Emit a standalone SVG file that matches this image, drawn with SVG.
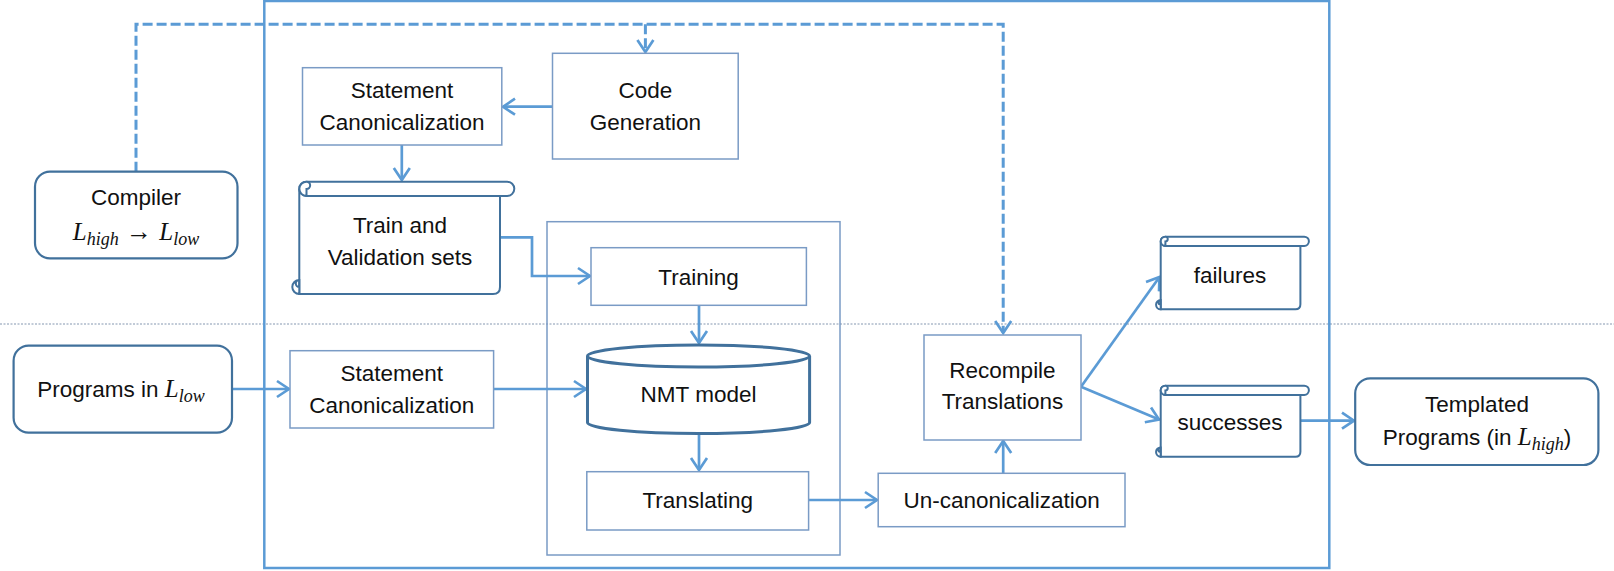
<svg xmlns="http://www.w3.org/2000/svg" width="1614" height="571" viewBox="0 0 1614 571">
<style>
.t{font-family:"Liberation Sans",Arial,sans-serif;font-size:22.5px;fill:#111;text-anchor:middle}
.m{font-family:"Liberation Serif","Times New Roman",serif;font-style:italic}
.box{fill:#fff;stroke:#7a9bc5;stroke-width:1.5}
.rbox{fill:#fff;stroke:#41719c;stroke-width:2.2}
.scr{fill:#fff;stroke:#41719c;stroke-width:2}
.c{fill:none;stroke:#5b9bd5;stroke-width:2.7}
.d{fill:none;stroke:#5b9bd5;stroke-width:3;stroke-dasharray:10 4}
</style>
<defs>
<marker id="a" viewBox="-14 -10 16 20" refX="0" refY="0" markerWidth="16" markerHeight="20" markerUnits="userSpaceOnUse" orient="auto">
<path d="M-12,-8 L0,0 L-12,8" fill="none" stroke="#5b9bd5" stroke-width="2.7"/>
</marker>
</defs>
<rect width="1614" height="571" fill="#fff"/>
<line x1="0" y1="324" x2="1614" y2="324" stroke="#8497b0" stroke-width="1" stroke-dasharray="2 1.5"/>
<g id="outer"><rect x="264.3" y="1" width="1065" height="567" fill="none" stroke="#5b9bd5" stroke-width="2.5"/></g>
<g id="inner"><rect x="547" y="221.7" width="293" height="333.3" fill="none" stroke="#7a9bc5" stroke-width="1.5"/></g>

<g id="connectors">
<path class="d" d="M136,171.7 V24.3 H1003.2 V333" marker-end="url(#a)"/>
<path class="d" d="M645.4,24.3 V52" marker-end="url(#a)"/>
<path class="c" d="M552.5,106.7 H503" marker-end="url(#a)"/>
<path class="c" d="M401.8,145 V180" marker-end="url(#a)"/>
<path class="c" d="M500,237.3 H532 V276 H590" marker-end="url(#a)"/>
<path class="c" d="M699,305.3 V343" marker-end="url(#a)"/>
<path class="c" d="M232,389 H289" marker-end="url(#a)"/>
<path class="c" d="M493.6,389 H586" marker-end="url(#a)"/>
<path class="c" d="M699,433.5 V470" marker-end="url(#a)"/>
<path class="c" d="M808.6,500 H877" marker-end="url(#a)"/>
<path class="c" d="M1003.2,473.3 V441" marker-end="url(#a)"/>
<path class="c" d="M1081,386.7 L1159.5,277" marker-end="url(#a)"/>
<path class="c" d="M1081,386.7 L1159,419.5" marker-end="url(#a)"/>
<path class="c" d="M1300.4,420.7 H1354" marker-end="url(#a)"/>
</g>

<g id="compiler">
<rect class="rbox" x="35" y="171.7" width="202.5" height="86.6" rx="15"/>
<text class="t" x="136" y="205">Compiler</text>
<text class="t" x="136" y="240"><tspan class="m" font-size="25">L</tspan><tspan class="m" font-size="18" dy="5">high</tspan><tspan dy="-5" font-size="26"> → </tspan><tspan class="m" font-size="25">L</tspan><tspan class="m" font-size="18" dy="5">low</tspan></text>
</g>

<g id="stmt-canon-top">
<rect class="box" x="302.5" y="67.7" width="199.3" height="77.3"/>
<text class="t" x="402" y="98">Statement</text>
<text class="t" x="402" y="130">Canonicalization</text>
</g>

<g id="code-gen">
<rect class="box" x="552.5" y="53.3" width="185.7" height="105.7"/>
<text class="t" x="645.4" y="98">Code</text>
<text class="t" x="645.4" y="130">Generation</text>
</g>

<g id="train-sets">
<path class="scr" d="M299.3,189 V294 H493 Q500,294 500,287 V196"/>
<rect class="scr" x="299.3" y="181.7" width="215" height="14.3" rx="7.15"/>
<path class="scr" d="M306.5,196 A7.15,7.15 0 0 1 306.5,181.7 A3.6,3.6 0 0 1 306.5,189 Z" fill="none"/>
<path class="scr" d="M299.3,280 A7,7 0 0 0 299.3,294 Z M299.3,287 A3.5,3.5 0 0 1 299.3,280"/>
<text class="t" x="400" y="233">Train and</text>
<text class="t" x="400" y="265">Validation sets</text>
</g>

<g id="training">
<rect class="box" x="591" y="247.7" width="215.4" height="57.6"/>
<text class="t" x="698.5" y="285">Training</text>
</g>

<g id="programs-low">
<rect class="rbox" x="13.6" y="345.7" width="218.4" height="87" rx="15"/>
<text class="t" x="121" y="397.3">Programs in <tspan class="m" font-size="25">L</tspan><tspan class="m" font-size="18" dy="5">low</tspan></text>
</g>

<g id="stmt-canon-bottom">
<rect class="box" x="290" y="350.7" width="203.6" height="77.3"/>
<text class="t" x="391.8" y="381">Statement</text>
<text class="t" x="391.8" y="412.7">Canonicalization</text>
</g>

<g id="nmt">
<path d="M587.5,356 V422.5 A111,11 0 0 0 809.6,422.5 V356" fill="#fff" stroke="#41719c" stroke-width="3"/>
<ellipse cx="698.5" cy="356" rx="111" ry="11" fill="#fff" stroke="#41719c" stroke-width="3"/>
<text class="t" x="698.5" y="401.7">NMT model</text>
</g>

<g id="translating">
<rect class="box" x="586.8" y="471.7" width="221.8" height="58.3"/>
<text class="t" x="697.7" y="508.3">Translating</text>
</g>

<g id="uncanon">
<rect class="box" x="878.2" y="473.3" width="246.8" height="53.4"/>
<text class="t" x="1001.6" y="508">Un-canonicalization</text>
</g>

<g id="recompile">
<rect class="box" x="924" y="335" width="157" height="105"/>
<text class="t" x="1002.5" y="378.3">Recompile</text>
<text class="t" x="1002.5" y="409.3">Translations</text>
</g>

<g id="failures">
<path class="scr" d="M1160.7,241.4 V309.3 H1295.4 Q1300.4,309.3 1300.4,304.3 V246"/>
<rect class="scr" x="1160.7" y="236.7" width="148.2" height="9.3" rx="4.65"/>
<path class="scr" d="M1165.4,246 A4.65,4.65 0 0 1 1165.4,236.7 A2.3,2.3 0 0 1 1165.4,241.4 Z"/>
<path class="scr" d="M1160.7,300 A4.65,4.65 0 0 0 1160.7,309.3 Z M1160.7,304.6 A2.3,2.3 0 0 1 1160.7,300"/>
<text class="t" x="1230" y="283">failures</text>
</g>

<g id="successes">
<path class="scr" d="M1160.7,390.4 V456.7 H1295.4 Q1300.4,456.7 1300.4,451.7 V395"/>
<rect class="scr" x="1160.7" y="385.7" width="148.2" height="9.3" rx="4.65"/>
<path class="scr" d="M1165.4,395 A4.65,4.65 0 0 1 1165.4,385.7 A2.3,2.3 0 0 1 1165.4,390.4 Z"/>
<path class="scr" d="M1160.7,447.4 A4.65,4.65 0 0 0 1160.7,456.7 Z M1160.7,452 A2.3,2.3 0 0 1 1160.7,447.4"/>
<text class="t" x="1230" y="430">successes</text>
</g>

<g id="templated">
<rect class="rbox" x="1355.2" y="378.3" width="243.2" height="86.7" rx="15"/>
<text class="t" x="1477" y="411.7">Templated</text>
<text class="t" x="1477" y="445">Programs (in <tspan class="m" font-size="25">L</tspan><tspan class="m" font-size="18" dy="5">high</tspan><tspan dy="-5">)</tspan></text>
</g>
</svg>
